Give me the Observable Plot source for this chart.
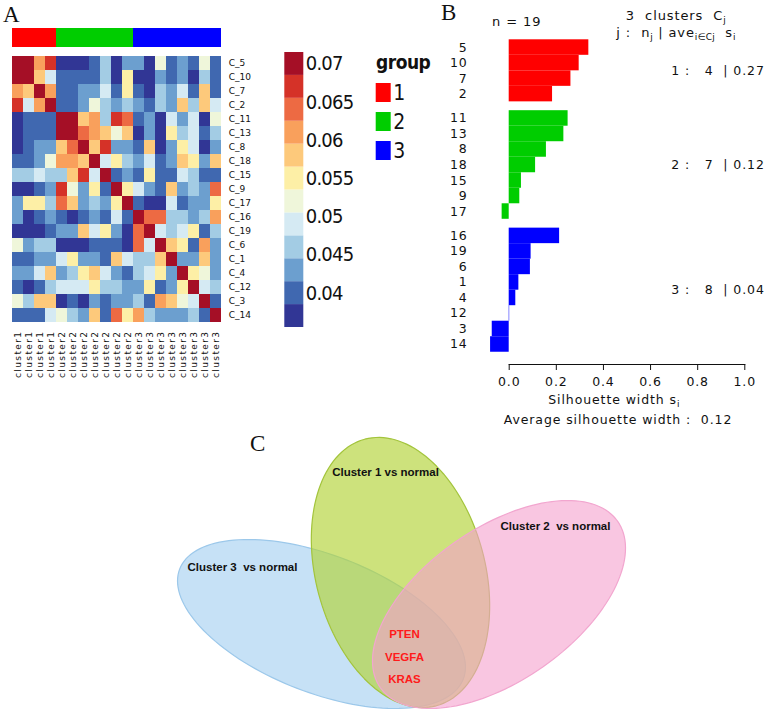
<!DOCTYPE html>
<html><head><meta charset="utf-8">
<script src="https://cdn.jsdelivr.net/npm/d3@7"></script>
<script src="https://cdn.jsdelivr.net/npm/@observablehq/plot@0.6"></script>
<style>
body{margin:0;background:#fff;}
#root{position:relative;width:768px;height:711px;overflow:hidden;background:#fff;font-family:"DejaVu Sans",sans-serif;color:#111;}
.abs{position:absolute;}
svg text{white-space:pre;}
.plab{position:absolute;font-family:"Liberation Serif","DejaVu Serif",serif;font-size:23px;line-height:1;}
.sil{position:absolute;font-family:"DejaVu Sans",sans-serif;font-size:12.5px;letter-spacing:0.9px;line-height:1;white-space:pre;color:#111;}
.sil sub{font-size:9px;vertical-align:-3px;letter-spacing:0.3px;}
#heat g[aria-label="x-axis tick label"] text{letter-spacing:1.4px;}
#cbar g[aria-label="y-axis tick label"] text{letter-spacing:-0.8px;}
</style></head><body><div id="root"></div>
<script>
// ---------- Panel A data ----------
const sampleIds = ["C_5","C_10","C_7","C_2","C_11","C_13","C_8","C_18","C_15","C_9","C_17","C_16","C_19","C_6","C_1","C_4","C_12","C_3","C_14"];
const sampleGroups = [1,1,1,1,2,2,2,2,2,2,2,3,3,3,3,3,3,3,3];
const simMatrix = [
[.070,.070,.061,.067,.037,.037,.037,.040,.046,.037,.043,.043,.037,.052,.040,.043,.040,.052,.040],
[.070,.070,.058,.049,.040,.040,.040,.040,.046,.037,.055,.037,.037,.043,.040,.043,.037,.046,.040],
[.061,.058,.070,.061,.040,.040,.043,.043,.049,.040,.055,.040,.037,.046,.043,.049,.040,.058,.040],
[.067,.049,.061,.070,.040,.040,.043,.052,.046,.043,.046,.043,.040,.046,.043,.058,.046,.058,.049],
[.037,.040,.040,.040,.070,.070,.058,.061,.046,.067,.064,.040,.043,.037,.049,.043,.049,.037,.052],
[.037,.040,.040,.040,.070,.070,.064,.061,.058,.052,.058,.037,.043,.037,.055,.046,.049,.040,.046],
[.037,.040,.043,.043,.058,.064,.070,.058,.067,.043,.043,.040,.058,.037,.043,.055,.049,.037,.043],
[.040,.040,.043,.052,.061,.061,.058,.070,.049,.055,.046,.043,.049,.040,.043,.058,.055,.043,.058],
[.046,.046,.049,.046,.046,.058,.067,.049,.070,.040,.043,.040,.055,.040,.040,.049,.046,.040,.040],
[.037,.037,.040,.043,.067,.052,.043,.055,.040,.070,.055,.049,.043,.040,.058,.043,.046,.043,.064],
[.043,.055,.055,.046,.064,.058,.043,.046,.043,.055,.070,.040,.037,.037,.049,.040,.043,.043,.055],
[.043,.037,.040,.043,.040,.037,.040,.043,.040,.049,.040,.070,.064,.064,.046,.046,.043,.046,.061],
[.037,.037,.037,.040,.043,.043,.058,.049,.055,.043,.037,.064,.070,.049,.046,.049,.055,.040,.046],
[.052,.043,.046,.046,.037,.037,.037,.040,.040,.040,.037,.064,.049,.070,.058,.055,.040,.061,.043],
[.040,.040,.043,.043,.049,.055,.043,.043,.040,.058,.049,.046,.046,.058,.070,.043,.043,.058,.043],
[.043,.043,.049,.058,.043,.046,.055,.058,.049,.043,.040,.046,.049,.055,.043,.070,.055,.052,.043],
[.040,.037,.040,.046,.049,.049,.049,.055,.046,.046,.043,.043,.055,.040,.043,.055,.070,.049,.046],
[.052,.046,.058,.058,.037,.040,.037,.043,.040,.043,.043,.046,.040,.061,.058,.052,.049,.070,.040],
[.040,.040,.040,.049,.052,.046,.043,.058,.040,.064,.055,.061,.046,.043,.043,.043,.046,.040,.070]
];
const colorThresholds = [.0385,.0415,.0445,.0475,.0505,.0535,.0565,.0595,.0625,.0655,.0685];
const colorRange = ["#313695","#4068b0","#6c9fcf","#a3cce4","#d5eaf3","#eff6da","#fdefa6","#fdc97b","#f9a05c","#ed6a43","#d53228","#a50f26"];
const legendBounds = [.0355,.0385,.0415,.0445,.0475,.0505,.0535,.0565,.0595,.0625,.0655,.0685,.0715];
const legendTicks = [0.04,0.045,0.05,0.055,0.06,0.065,0.07];
const groupNames = ["1","2","3"];
const groupColors = ["#ff0000","#00cd00","#0000ff"];

// ---------- Panel B data ----------
const silLabels = ["5","10","7","2","11","13","8","18","15","9","17","16","19","6","1","4","12","3","14"];
const silCluster = [1,1,1,1,2,2,2,2,2,2,2,3,3,3,3,3,3,3,3];
const silWidth = [0.338,0.297,0.262,0.184,0.250,0.232,0.158,0.112,0.052,0.045,-0.030,0.214,0.093,0.090,0.041,0.028,0.002,-0.072,-0.079];
const clusterIds = [1,2,3];
const clusterSizes = [4,7,8];
const clusterAvg = [0.27,0.12,0.04];
const silColors = ["#ff0000","#00cd00","#0000ff"];
const silTicks = [0,0.2,0.4,0.6,0.8,1.0];
const nTotal = 19;
const avgWidth = 0.12;

// ---------- Panel C data ----------
const vennSets = ["Cluster 3  vs normal","Cluster 1 vs normal","Cluster 2  vs normal"];
const vennFill = ["#a0cdf0","#b2d235","#f5a0cd"];
const vennStroke = ["#9cc8ea","#a3c43c","#f2a6cf"];
const sharedGenes = ["PTEN","VEGFA","KRAS"];

const root = document.getElementById("root");
function place(node, left, top, id){ const d=document.createElement("div"); d.className="abs"; d.style.left=left+"px"; d.style.top=top+"px"; if(id) d.id=id; d.appendChild(node); root.appendChild(d); return d; }
function html(cls, left, top, inner, extra){ const d=document.createElement("div"); d.className=cls; d.style.left=left+"px"; d.style.top=top+"px"; if(extra) Object.assign(d.style, extra); d.innerHTML=inner; root.appendChild(d); return d; }

// ---------- Panel A: heatmap ----------
const groupOf = new Map(sampleIds.map((s,i)=>[s, sampleGroups[i]]));
const cells = [];
sampleIds.forEach((r,i)=>sampleIds.forEach((c,j)=>cells.push({row:r, col:c, value:simMatrix[i][j]})));
const colorScale = {type:"threshold", domain:colorThresholds, range:colorRange};

const heat = Plot.plot({
  width:260, height:332, marginLeft:8.3, marginRight:34.7, marginTop:0, marginBottom:55,
  style:{fontFamily:"DejaVu Sans, sans-serif", fontSize:"9px", color:"#111", background:"transparent"},
  x:{domain:sampleIds, padding:0, axis:null},
  y:{domain:sampleIds, padding:0, axis:null},
  color:colorScale,
  marks:[
    Plot.cell(cells, {x:"col", y:"row", fill:"value", inset:0}),
    Plot.axisY({anchor:"right", tickSize:0, tickPadding:3, fontSize:9, label:null}),
    Plot.axisX({anchor:"bottom", tickSize:0, tickPadding:3, tickRotate:-90, fontSize:9, label:null, tickFormat:d=>"cluster"+groupOf.get(d)})
  ]
});
place(heat, 0, 50, "heat");

const gbar = Plot.plot({
  width:260, height:19, marginLeft:8.3, marginRight:34.7, marginTop:0, marginBottom:0,
  x:{domain:sampleIds, padding:0, axis:null},
  color:{type:"identity"},
  marks:[ Plot.cell(sampleIds, {x:d=>d, fill:d=>groupColors[groupOf.get(d)-1], inset:0}) ]
});
place(gbar, 0, 28);

// colour legend
const swatches = legendBounds.slice(0,-1).map((lo,i)=>({lo, hi:legendBounds[i+1], mid:(lo+legendBounds[i+1])/2}));
const cbar = Plot.plot({
  width:100, height:300, marginLeft:14.3, marginRight:66.7, marginTop:12, marginBottom:13,
  style:{fontFamily:"'Liberation Sans Narrow','DejaVu Sans Condensed','Arial Narrow',sans-serif", color:"#111", background:"transparent"},
  y:{domain:[legendBounds[0], legendBounds[legendBounds.length-1]], axis:null},
  color:colorScale,
  marks:[
    Plot.rect(swatches, {y1:"lo", y2:"hi", fill:"mid"}),
    Plot.axisY({anchor:"right", ticks:legendTicks, tickFormat:d=>String(+d.toFixed(3)), tickSize:0, tickPadding:2, fontSize:20, label:null})
  ]
});
place(cbar, 270, 40, "cbar");

html("abs", 376, 53, "group", {fontFamily:"'Liberation Sans Narrow','DejaVu Sans Condensed',sans-serif", fontWeight:"bold", fontSize:"19px", lineHeight:"1", color:"#111", letterSpacing:"-0.5px"});
const glegend = Plot.plot({
  width:60, height:85, marginLeft:5.7, marginRight:39.3, marginTop:2.3, marginBottom:5,
  style:{fontFamily:"'Liberation Sans Narrow','DejaVu Sans Condensed',sans-serif", color:"#111", background:"transparent"},
  x:{axis:null}, y:{domain:groupNames, paddingInner:0.36, paddingOuter:0, axis:null},
  color:{type:"identity"},
  marks:[
    Plot.cell(groupNames, {y:d=>d, fill:(d,i)=>groupColors[i]}),
    Plot.text(groupNames, {y:d=>d, text:d=>d, frameAnchor:"right", dx:2, textAnchor:"start", fontSize:21, fill:"#111"})
  ]
});
place(glegend, 370, 80);

// ---------- Panel B: silhouette ----------
const gapUnits = 0.57;
let pos = 0;
const silData = silLabels.map((lab,i)=>{
  if(i>0 && silCluster[i]!==silCluster[i-1]) pos += gapUnits;
  const d = {label:lab, cluster:silCluster[i], width:silWidth[i], y1:pos, y2:pos+1};
  pos += 1; return d;
});
const clusterMid = clusterIds.map(c=>{ const b=silData.filter(d=>d.cluster===c); return (b[0].y1 + b[b.length-1].y2)/2; });
const summary = clusterIds.map((c,i)=>({ymid:clusterMid[i], text:`${c} :   ${clusterSizes[i]}  | ${clusterAvg[i].toFixed(2)}`}));
const yMax = pos + 0.79;
const sil = Plot.plot({
  width:328, height:395, marginLeft:68.7, marginRight:23.7, marginTop:39.3, marginBottom:31,
  style:{fontFamily:"DejaVu Sans, sans-serif", fontSize:"12px", color:"#111", background:"transparent", letterSpacing:"0.9px"},
  x:{domain:[0,1], axis:null},
  y:{domain:[0,yMax], reverse:true, axis:null},
  color:{type:"identity"},
  marks:[
    Plot.rect(silData, {x1:()=>0, x2:"width", y1:"y1", y2:"y2", fill:d=>silColors[d.cluster-1]}),
    Plot.text(silData, {y:d=>(d.y1+d.y2)/2, text:"label", frameAnchor:"left", dx:-41.5, textAnchor:"end", fontSize:12.5, fill:"#111"}),
    Plot.text(summary, {y:"ymid", text:"text", frameAnchor:"right", dx:20, textAnchor:"end", fontSize:12.5, fill:"#111"}),
    Plot.frame({anchor:"bottom", stroke:"#111"}),
    Plot.axisX({anchor:"bottom", ticks:silTicks, tickFormat:d=>d.toFixed(1), tickSize:6, tickPadding:7, fontSize:12.5, stroke:"#111", label:null})
  ]
});
place(sil, 440, 0);

html("sil", 492, 15, `n = ${nTotal}`, {fontSize:"13px"});
html("sil", 596, 9, `3  clusters  C<sub>j</sub>`, {width:"160px", textAlign:"center", fontSize:"13px"});
html("sil", 596, 26, `j :  n<sub>j</sub> | ave<sub>i∈Cj</sub>  s<sub>i</sub>`, {width:"160px", textAlign:"center", fontSize:"13px"});
html("sil", 534, 394, `Silhouette width s<sub>i</sub>`, {width:"160px", textAlign:"center"});
html("sil", 478, 414, `Average silhouette width :  ${avgWidth.toFixed(2)}`, {width:"280px", textAlign:"center"});

// ---------- Panel C: Venn ----------
const vennTop = 430;
const ellipses = [
  {set:0, cx:321, cy:193.5, a:152.1, b:68.8, deg:21.2},
  {set:1, cx:400, cy:142, a:138, b:84.6, deg:75},
  {set:2, cx:498.5, cy:174, a:144.9, b:76.3, deg:-35}
];
const ellPts = [];
for(const e of ellipses){
  const th = e.deg*Math.PI/180;
  for(let k=0;k<144;k++){
    const t = k/144*2*Math.PI;
    ellPts.push({set:e.set, x:e.cx + e.a*Math.cos(t)*Math.cos(th) - e.b*Math.sin(t)*Math.sin(th),
                 y:e.cy + e.a*Math.cos(t)*Math.sin(th) + e.b*Math.sin(t)*Math.cos(th)});
  }
}
const vennLabels = [
  {text:vennSets[0], x:242, y:137},
  {text:vennSets[1], x:385, y:42},
  {text:vennSets[2], x:555, y:96}
];
const geneLabels = sharedGenes.map((g,i)=>({text:g, x:404, y:204+i*22.5}));
const venn = Plot.plot({
  width:768, height:281, margin:0,
  x:{type:"identity", axis:null}, y:{type:"identity", axis:null},
  style:{background:"transparent"},
  marks:[
    ...[0,1,2].map(s=>Plot.line(ellPts.filter(p=>p.set===s), {x:"x", y:"y", curve:"linear-closed", fill:vennFill[s], fillOpacity:s===1?0.65:0.6, stroke:vennStroke[s], strokeWidth:1.2})),
    Plot.text(vennLabels, {x:"x", y:"y", text:"text", fontFamily:"'Liberation Sans',Arial,sans-serif", fontWeight:"bold", fontSize:11.5, fill:"#111"}),
    Plot.text(geneLabels, {x:"x", y:"y", text:"text", fontFamily:"'Liberation Sans',Arial,sans-serif", fontWeight:"bold", fontSize:11.5, fill:"#ff1a1a"})
  ]
});
place(venn, 0, vennTop);

// panel letters
html("plab", 3, 3, "A");
html("plab", 441, 1, "B");
html("plab", 250, 432, "C");
</script></body></html>
